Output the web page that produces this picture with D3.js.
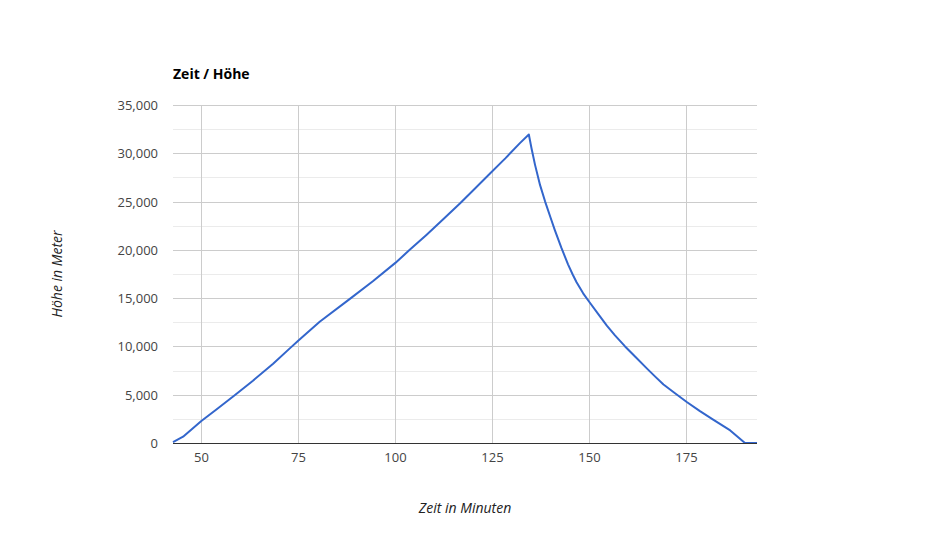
<!DOCTYPE html>
<html><head><meta charset="utf-8">
<script src="https://cdn.jsdelivr.net/npm/d3@7"></script>
<style>body{margin:0;background:#fff;} text{font-family:"Open Sans",sans-serif;}</style>
</head><body>
<svg id="c" width="930" height="550"></svg>
<script>
const minutes = [42.8, 45.4, 50.1, 53.9, 58.7, 63.4, 68.6, 72.9, 75.2, 80.6, 88.3, 94.3, 100.1, 103.8,
  108.1, 112.5, 116.8, 120.5, 124.5, 128.5, 132.2, 134.5,
  135.2, 136.1, 137.4, 138.7, 140.0, 141.2, 142.9, 144.6, 145.8, 146.8, 148.5, 150.0, 152.4, 154.6, 156.7, 159.3,
  162.0, 164.9, 167.0, 169.2, 172.0, 175.2, 178.6, 182.1, 186.4, 190.2, 193.3];
const heights = [100, 650, 2280, 3450, 4950, 6450, 8200, 9800, 10650, 12550, 14900, 16750, 18650, 20000,
  21550, 23200, 24820, 26300, 27900, 29500, 31050, 31950,
  30500, 28800, 26700, 25000, 23450, 22050, 20200, 18500, 17450, 16650, 15500, 14650, 13350, 12150, 11150, 10000,
  8900, 7730, 6900, 6050, 5200, 4250, 3300, 2400, 1300, 0, 0];
const xTicks = [50, 75, 100, 125, 150, 175];
const yTicks = [0, 5000, 10000, 15000, 20000, 25000, 30000, 35000];
const yMinor = [2500, 7500, 12500, 17500, 22500, 27500, 32500];
const title = "Zeit / Höhe", xTitle = "Zeit in Minuten", yTitle = "Höhe in Meter";

const svg = d3.select("#c");
const L = 173, R = 757, T = 105, B = 443;
const x = d3.scaleLinear().domain(d3.extent(minutes)).range([L, R]);
const y = d3.scaleLinear().domain([0, 35000]).range([B, T]);

// minor grid
svg.append("g").selectAll("line").data(yMinor).join("line")
  .attr("x1", L).attr("x2", R).attr("y1", d => Math.round(y(d)) + 0.5).attr("y2", d => Math.round(y(d)) + 0.5)
  .attr("stroke", "#ebebeb");
// major grid
svg.append("g").selectAll("line").data(yTicks.filter(d => d > 0)).join("line")
  .attr("x1", L).attr("x2", R).attr("y1", d => Math.round(y(d)) + 0.5).attr("y2", d => Math.round(y(d)) + 0.5)
  .attr("stroke", "#cccccc");
svg.append("g").selectAll("line").data(xTicks).join("line")
  .attr("x1", d => Math.round(x(d)) + 0.5).attr("x2", d => Math.round(x(d)) + 0.5).attr("y1", T).attr("y2", B)
  .attr("stroke", "#cccccc");

// axes (labels only)
const fmt = d3.format(",");
const ya = svg.append("g").attr("transform", `translate(${L},0)`)
  .call(d3.axisLeft(y).tickValues(yTicks).tickFormat(fmt).tickSize(0).tickPadding(15));
ya.select(".domain").remove();
ya.selectAll("text").attr("font-size", 13).attr("fill", "#444").attr("font-family", "Open Sans").attr("dy", "0.35em");
const xa = svg.append("g").attr("transform", `translate(0,${B})`)
  .call(d3.axisBottom(x).tickValues(xTicks).tickFormat(d3.format("d")).tickSize(0).tickPadding(10));
xa.select(".domain").remove();
xa.selectAll("text").attr("font-size", 13).attr("fill", "#444").attr("font-family", "Open Sans");

// line
svg.append("path").datum(minutes.map((m, i) => [m, heights[i]]))
  .attr("fill", "none").attr("stroke", "#3366cc").attr("stroke-width", 2).attr("stroke-linejoin", "round")
  .attr("d", d3.line().x(d => x(d[0])).y(d => y(d[1])));

// baseline
svg.append("line").attr("x1", L).attr("x2", R).attr("y1", B + 0.5).attr("y2", B + 0.5).attr("stroke", "#333");

// titles
svg.append("text").attr("x", L).attr("y", 79).attr("font-size", 14).attr("font-weight", "bold").attr("fill", "#000").text(title);
svg.append("text").attr("x", (L + R) / 2).attr("y", 513).attr("text-anchor", "middle").attr("font-size", 14)
  .attr("font-style", "italic").attr("fill", "#222").text(xTitle);
svg.append("text").attr("transform", `translate(62,${(T + B) / 2}) rotate(-90)`).attr("text-anchor", "middle")
  .attr("font-size", 14).attr("font-style", "italic").attr("fill", "#222").text(yTitle);
</script>
</body></html>
